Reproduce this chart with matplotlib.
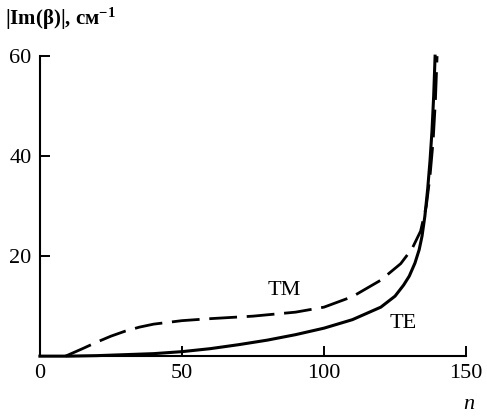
import matplotlib
matplotlib.use('Agg')
import matplotlib.pyplot as plt

plt.rcParams['font.family'] = ['Liberation Serif', 'DejaVu Serif']
plt.rcParams['mathtext.fontset'] = 'custom'
plt.rcParams['mathtext.rm'] = 'Liberation Serif:bold'
plt.rcParams['mathtext.default'] = 'rm'

# TE (solid) curve
n_te = [0, 10, 20, 30, 40, 50, 60, 70, 80, 90, 100, 110, 120, 125, 128, 130, 132, 133.5,
        134.5, 135.5, 136.5, 137.3, 138, 138.6, 139.1]
im_te = [0, 0, 0.1, 0.3, 0.5, 0.9, 1.5, 2.3, 3.2, 4.3, 5.6, 7.3, 9.8, 12, 14.2, 16, 18.6, 21.3,
         24, 28, 33.5, 39, 45, 52, 60]

# TM (dashed) curve
n_tm = [9, 15, 20, 25, 30, 35, 40, 50, 60, 75, 90, 100, 110, 120, 127, 131, 134, 136,
        137.3, 138.4, 139.2, 139.8]
im_tm = [0, 1.5, 2.8, 4.0, 5.0, 5.8, 6.4, 7.1, 7.5, 8.0, 8.8, 9.8, 11.9, 15.2, 18.5, 21.5,
         25, 30, 36, 43, 51, 60]

xticks = [0, 50, 100, 150]
yticks = [20, 40, 60]

fig = plt.figure(figsize=(4.87, 4.19), dpi=100)
ax = fig.add_axes([0.082, 0.150, 0.875, 0.716])

ax.plot(n_te, im_te, color='black', linewidth=2.2, clip_on=False)
ax.plot(n_tm, im_tm, color='black', linewidth=2.0, dashes=(10, 3.5), clip_on=False)

ax.set_xlim(0, 150)
ax.set_ylim(0, 60)
ax.set_xticks(xticks)
ax.set_yticks(yticks)
ax.tick_params(direction='in', length=7, width=1.4, labelsize=16, pad=6)
for s in ['top', 'right']:
    ax.spines[s].set_visible(False)
for s in ['left', 'bottom']:
    ax.spines[s].set_linewidth(1.5)

ax.text(86, 13.2, 'TM', fontsize=16, ha='center', va='center')
ax.text(128, 6.6, 'TE', fontsize=16, ha='center', va='center')

fig.text(0.975, 0.035, 'n', fontsize=16, style='italic', ha='right', va='center')
fig.text(0.01, 0.955, '|Im(β)|, см$^{-1}$', fontsize=15, fontweight='bold', ha='left', va='center')

fig.savefig('out.png', dpi=100)
